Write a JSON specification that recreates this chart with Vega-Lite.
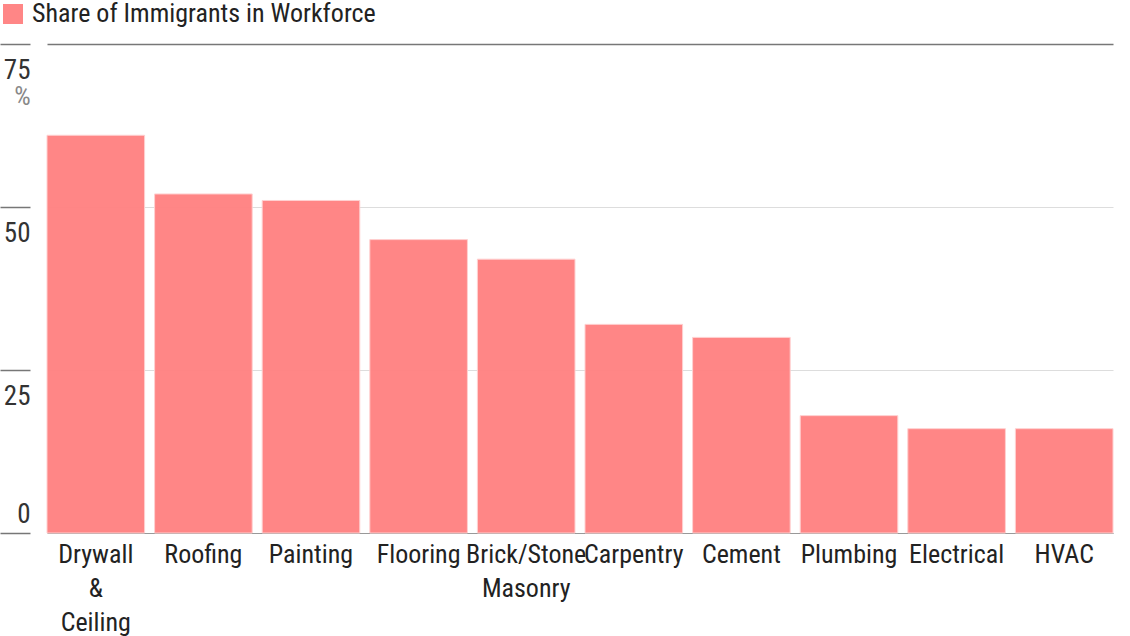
{
  "$schema": "https://vega.github.io/schema/vega-lite/v6.json",
  "description": "Share of immigrants in the workforce by construction trade.",
  "autosize": "none",
  "width": 1066,
  "height": 489,
  "padding": {"left": 47, "top": 44, "right": 17, "bottom": 103},
  "background": "white",
  "config": {
    "font": "Roboto Condensed, DejaVu Sans Condensed, Roboto, sans-serif",
    "view": {"stroke": null}
  },
  "data": {
    "values": [
      {"trade": "Drywall & Ceiling", "share": 61, "series": "Share of Immigrants in Workforce"},
      {"trade": "Roofing", "share": 52, "series": "Share of Immigrants in Workforce"},
      {"trade": "Painting", "share": 51, "series": "Share of Immigrants in Workforce"},
      {"trade": "Flooring", "share": 45, "series": "Share of Immigrants in Workforce"},
      {"trade": "Brick/Stone Masonry", "share": 42, "series": "Share of Immigrants in Workforce"},
      {"trade": "Carpentry", "share": 32, "series": "Share of Immigrants in Workforce"},
      {"trade": "Cement", "share": 30, "series": "Share of Immigrants in Workforce"},
      {"trade": "Plumbing", "share": 18, "series": "Share of Immigrants in Workforce"},
      {"trade": "Electrical", "share": 16, "series": "Share of Immigrants in Workforce"},
      {"trade": "HVAC", "share": 16, "series": "Share of Immigrants in Workforce"}
    ]
  },
  "mark": {
    "type": "bar",
    "fillOpacity": 0.95,
    "stroke": "#ffd0d0",
    "strokeWidth": 1
  },
  "encoding": {
    "x": {
      "field": "trade",
      "type": "nominal",
      "sort": null,
      "scale": {"paddingInner": 0.093, "paddingOuter": 0},
      "axis": {
        "title": null,
        "ticks": false,
        "tickSize": 0,
        "domainColor": "#999999",
        "domainWidth": 1.2,
        "labelAngle": 0,
        "labelFontSize": 26,
        "labelColor": "#222222",
        "labelBaseline": "alphabetic",
        "labelPadding": 29,
        "labelLineHeight": 34,
        "labelLimit": 200,
        "labelExpr": "split(datum.label, ' ')"
      }
    },
    "y": {
      "field": "share",
      "type": "quantitative",
      "scale": {"domain": [0, 75], "nice": false},
      "axis": {
        "values": [0, 25, 50, 75],
        "offset": 17,
        "domain": false,
        "tickSize": 30,
        "tickColor": "#777777",
        "tickWidth": 1.5,
        "gridColor": {"condition": {"test": "datum.value == 75", "value": "#777777"}, "value": "#dddddd"},
        "gridWidth": {"condition": {"test": "datum.value == 75", "value": 1.5}, "value": 1},
        "labelPadding": -30,
        "labelFontSize": 27,
        "labelColor": "#333333",
        "labelBaseline": "alphabetic",
        "labelOffset": {"condition": {"test": "datum.value == 0", "value": -11}, "value": 34},
        "title": "%",
        "titleAngle": 0,
        "titleColor": "#888888",
        "titleFontSize": 26,
        "titleFontWeight": "normal",
        "titleAlign": "center",
        "titleBaseline": "alphabetic",
        "titleX": -8,
        "titleY": 60
      }
    },
    "color": {
      "field": "series",
      "type": "nominal",
      "scale": {"range": ["#ff8080"]},
      "legend": {
        "title": null,
        "orient": "none",
        "legendX": -47,
        "legendY": -43,
        "padding": 0,
        "symbolType": "square",
        "symbolSize": 400,
        "symbolStrokeWidth": 0,
        "symbolOpacity": 0.95,
        "labelFontSize": 26,
        "labelColor": "#222222",
        "labelOffset": 6,
        "labelLimit": 500
      }
    }
  }
}
